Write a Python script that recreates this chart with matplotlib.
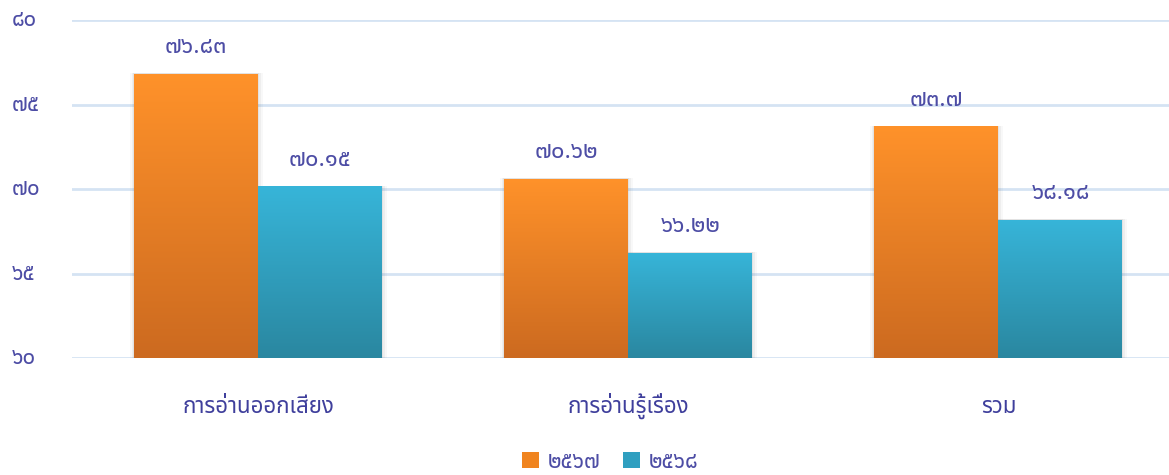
import matplotlib
matplotlib.use('Agg')
import matplotlib.pyplot as plt
import numpy as np
from matplotlib.colors import LinearSegmentedColormap
from matplotlib.patches import Rectangle, Patch
from matplotlib.transforms import blended_transform_factory

categories = ['การอ่านออกเสียง', 'การอ่านรู้เรื่อง', 'รวม']
series_names = ['๒๕๖๗', '๒๕๖๘']
values_2567 = [76.83, 70.62, 73.7]
values_2568 = [70.15, 66.22, 68.18]
labels_2567 = ['๗๖.๘๓', '๗๐.๖๒', '๗๓.๗']
labels_2568 = ['๗๐.๑๕', '๖๖.๒๒', '๖๘.๑๘']
yticks = [60, 65, 70, 75, 80]
ytick_labels = ['๖๐', '๖๕', '๗๐', '๗๕', '๘๐']

FONT = ['Noto Sans Thai', 'DejaVu Sans']
plt.rcParams['font.family'] = FONT
TXT = '#4d4da5'

W, H = 1169, 475
fig = plt.figure(figsize=(W / 100, H / 100), dpi=100)
ax = fig.add_axes([72 / W, 117 / H, (W - 72) / W, 338 / H])
ax.set_ylim(60, 80)
ax.set_xlim(-0.503, 2.461)
for s in ax.spines.values():
    s.set_visible(False)
ax.set_xticks([])
ax.set_yticks([])
for y in yticks:
    ax.axhline(y, color='#d5e3f3', lw=2, zorder=0)

cmap_o = LinearSegmentedColormap.from_list('o', ['#cc6a20', '#ff922a'])
cmap_b = LinearSegmentedColormap.from_list('b', ['#2a87a0', '#37b5d9'])
grad = np.linspace(0, 1, 256).reshape(-1, 1)

bw = 0.335
x = np.arange(len(categories))


def gradient_bar(xc, val, cmap):
    x0 = xc - bw / 2
    for k, a in [(0.012, 0.04), (0.007, 0.06), (0.003, 0.08)]:
        sh = Rectangle((x0 - k, 60), bw + 2 * k, val - 60 + 0.05 - 0.3 * k,
                       facecolor='#555555', alpha=a, lw=0, zorder=1)
        ax.add_patch(sh)
    rect = Rectangle((x0, 60), bw, val - 60, facecolor='none', lw=0, zorder=2)
    ax.add_patch(rect)
    im = ax.imshow(grad, aspect='auto', cmap=cmap, origin='lower',
                   extent=[x0, x0 + bw, 60, val], zorder=2, interpolation='bicubic')
    im.set_clip_path(rect)


for i in range(len(categories)):
    gradient_bar(x[i] - bw / 2, values_2567[i], cmap_o)
    gradient_bar(x[i] + bw / 2, values_2568[i], cmap_b)
    ax.annotate(labels_2567[i], (x[i] - bw / 2, values_2567[i]), xytext=(0, 15),
                textcoords='offset points', ha='center', va='baseline',
                fontsize=17, color=TXT)
    ax.annotate(labels_2568[i], (x[i] + bw / 2, values_2568[i]), xytext=(0, 15),
                textcoords='offset points', ha='center', va='baseline',
                fontsize=17, color=TXT)
    ax.annotate(categories[i], (x[i], 60), xytext=(0, -39.5),
                textcoords='offset points', ha='center', va='baseline',
                fontsize=16, color='#3f3f9c', annotation_clip=False)

ax.set_xlim(-0.503, 2.461)

tr = blended_transform_factory(fig.transFigure, ax.transData)
for yv, lab in zip(yticks, ytick_labels):
    ax.annotate(lab, (12 / W, yv), xycoords=tr, xytext=(0, -4.5),
                textcoords='offset points', ha='left', va='baseline',
                fontsize=16, color=TXT, annotation_clip=False)

handles = [Patch(facecolor='#f0841f', edgecolor='none'), Patch(facecolor='#2f9fc0', edgecolor='none')]
fig.legend(handles, series_names, loc='center', bbox_to_anchor=(610 / W, 1 - 462 / H),
           ncol=2, frameon=False, fontsize=16, labelcolor=TXT,
           handlelength=0.75, handleheight=0.75, handletextpad=0.4, columnspacing=1.0)

fig.savefig('out.png', dpi=100)
